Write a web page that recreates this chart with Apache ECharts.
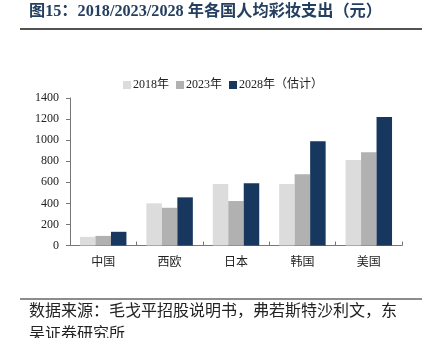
<!DOCTYPE html>
<html>
<head>
<meta charset="utf-8">
<script src="https://cdn.jsdelivr.net/npm/echarts@6/dist/echarts.min.js"></script>
<style>
  html, body { margin: 0; padding: 0; background: #fff; }
  #chart { width: 427px; height: 338px; }
</style>
</head>
<body>
<div id="chart"></div>
<script>
// Per-capita cosmetics spending by country (CNY)
const countries = ['中国', '西欧', '日本', '韩国', '美国'];
const seriesNames = ['2018年', '2023年', '2028年（估计）'];
const spend2018 = [82, 400, 584, 584, 812];
const spend2023 = [91, 358, 422, 676, 886];
const spend2028 = [130, 457, 590, 990, 1220];
const yTicks = [0, 200, 400, 600, 800, 1000, 1200, 1400];

const titleText = '图15：2018/2023/2028 年各国人均彩妆支出（元）';
const sourceText = '数据来源：毛戈平招股说明书，弗若斯特沙利文，东';
const sourceText2 = '吴证券研究所';

const serif = "'Liberation Serif', 'Noto Sans CJK SC', serif";
const colors = ['#dcdcdc', '#b1b1b1', '#17375e'];

const chart = echarts.init(document.getElementById('chart'), null, { renderer: 'canvas' });

chart.setOption({
  animation: false,
  backgroundColor: '#ffffff',
  color: colors,
  graphic: [
    { type: 'text', left: 29, top: 4,
      style: { text: titleText, fill: '#243f60', font: "bold 16.2px " + serif } },
    { type: 'line', shape: { x1: 20, y1: 29, x2: 422, y2: 29 },
      style: { stroke: '#1a1a1a', lineWidth: 1.5 } },
    { type: 'line', shape: { x1: 20, y1: 299, x2: 422, y2: 299 },
      style: { stroke: '#1a1a1a', lineWidth: 1.2 } },
    { type: 'text', left: 29, top: 304,
      style: { text: sourceText, fill: '#222', font: "16px " + serif } },
    { type: 'text', left: 29, top: 327,
      style: { text: sourceText2, fill: '#222', font: "16px " + serif } }
  ],
  legend: {
    top: 74,
    left: 118,
    itemWidth: 8,
    itemHeight: 8,
    itemGap: 7,
    icon: 'rect',
    textStyle: { fontFamily: serif, fontSize: 12, color: '#222', padding: [0, 0, 0, -3] },
    data: seriesNames
  },
  grid: { left: 70, right: 25, top: 98, bottom: 92.5, containLabel: false },
  xAxis: {
    type: 'category',
    data: countries,
    axisLine: { lineStyle: { color: '#777', width: 1 } },
    axisTick: { show: true, inside: true, length: 4, lineStyle: { color: '#777' } },
    axisLabel: { fontFamily: serif, fontSize: 12, color: '#222', margin: 11 }
  },
  yAxis: {
    type: 'value',
    min: yTicks[0],
    max: yTicks[yTicks.length - 1],
    interval: yTicks[1] - yTicks[0],
    splitLine: { show: false },
    axisLine: { show: true, lineStyle: { color: '#777', width: 1 } },
    axisTick: { show: true, inside: false, length: 4, lineStyle: { color: '#777' } },
    axisLabel: { fontFamily: serif, fontSize: 12, color: '#222', margin: 11,
      formatter: (v) => String(v) }
  },
  series: [
    { name: seriesNames[0], type: 'bar', data: spend2018, barGap: '0%', barCategoryGap: '30%' },
    { name: seriesNames[1], type: 'bar', data: spend2023, barGap: '0%', barCategoryGap: '30%' },
    { name: seriesNames[2], type: 'bar', data: spend2028, barGap: '0%', barCategoryGap: '30%' }
  ]
});
</script>
</body>
</html>
